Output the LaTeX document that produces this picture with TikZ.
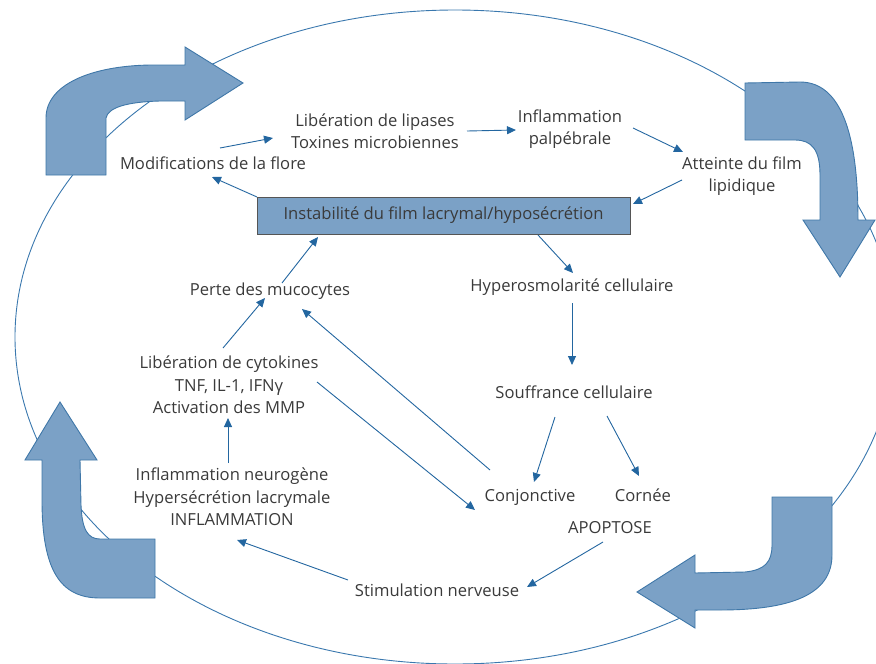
\documentclass[tikz,border=0pt]{standalone}
\usepackage{fontspec}
\setmainfont{Open Sans}
\usetikzlibrary{arrows.meta,calc}
\definecolor{blockfill}{HTML}{7BA1C6}
\definecolor{blockdraw}{HTML}{3F77A8}
\definecolor{conncol}{HTML}{2366A0}
\definecolor{ellcol}{HTML}{3A78AE}
\definecolor{textgray}{HTML}{3A3A3A}
\definecolor{boxdraw}{HTML}{555555}
\begin{document}
\begin{tikzpicture}[x=1pt,y=-1pt,
  txt/.style={font=\fontsize{16.6}{22.5}\selectfont, text=textgray, align=center, inner sep=0pt},
  conn/.style={draw=conncol, line width=0.9pt, -{Triangle[length=9pt,width=8pt]}},
  bigarrow/.style={fill=blockfill, draw=blockdraw, line width=0.9pt, line join=miter},
  ell/.style={draw=ellcol, line width=0.9pt}]
\useasboundingbox (0,0) rectangle (876,664);
\begin{scope}
\clip (0,0) rectangle (876,664);
\draw[ell] (455,337) ellipse [x radius=440pt, y radius=327pt];
\end{scope}

% big curved arrows
\draw[bigarrow] (46,175) -- (106,175) -- (106,118) .. controls (108,108) and (125,102) .. (160,101) -- (185,101) -- (185,120) -- (243,83) -- (185,47) -- (185,65) -- (150,65) .. controls (90,66) and (46,85) .. (46,118) -- cycle;
\draw[bigarrow] (745,83) -- (800,82) .. controls (835,82) and (858,120) .. (858,220) -- (875,220) -- (840,277) -- (803,220) -- (820,220) -- (820,175) .. controls (820,150) and (812,140) .. (795,140) -- (745,140) -- cycle;
\draw[bigarrow] (772,497) -- (832,497) -- (832,555) .. controls (832,595) and (790,610) .. (720,610) -- (695,610) -- (695,628) -- (637,592) -- (695,555) -- (695,573) -- (745,572) .. controls (765,570) and (772,562) .. (772,545) -- cycle;
\draw[bigarrow] (42,460) -- (42,500) .. controls (42,570) and (60,598) .. (100,598) -- (155,598) -- (155,539) -- (100,539) .. controls (88,539) and (82,530) .. (81,505) -- (80,460) -- (97,460) -- (60,402) -- (25,460) -- cycle;

% nodes
\node[txt] (lip) at (375,131) {Libération de lipases\\Toxines microbiennes};
\node[txt] (inf) at (570,129) {Inflammation\\palpébrale};
\node[txt] (att) at (742,176) {Atteinte du film\\lipidique};
\node[txt] (flore) at (213,163) {Modifications de la flore};
\node[txt, fill=blockfill, draw=boxdraw, line width=0.9pt, minimum width=373pt, minimum height=37pt] (box) at (443.5,215.5) {Instabilité du film lacrymal/hyposécrétion};
\node[txt] (perte) at (270,291) {Perte des mucocytes};
\node[txt] (hyper) at (572,287) {Hyperosmolarité cellulaire};
\node[txt] (souf) at (574,392) {Souffrance cellulaire};
\node[txt] (cyto) at (229,385) {Libération de cytokines\\TNF, IL-1, IFN\char"03B3\\Activation des MMP};
\node[txt] (neuro) at (232,497) {Inflammation neurogène\\Hypersécrétion lacrymale\\INFLAMMATION};
\node[txt] (conj) at (530,497) {Conjonctive};
\node[txt] (cornee) at (643,495) {Cornée};
\node[txt] (apop) at (610,528) {APOPTOSE};
\node[txt] (stim) at (437,590) {Stimulation nerveuse};

% connectors
\draw[conn] ([shift={(7,-15)}]flore.center) -- ([shift={(-102,7)}]lip.center);
\draw[conn] ([shift={(92,0)}]lip.center) -- ([shift={(-54,1)}]inf.center);
\draw[conn] ([shift={(63,-1)}]inf.center) -- ([shift={(-59,-24)}]att.center);
\draw[conn] ([shift={(-60,4)}]att.center) -- ([shift={(189.5,-11.5)}]box.center);
\draw[conn] ([shift={(-186.5,-18.5)}]box.center) -- ([shift={(-1,14)}]flore.center);
\draw[conn] ([shift={(94.5,19.5)}]box.center) -- ([shift={(1,-14)}]hyper.center);
\draw[conn] ([shift={(0,16)}]hyper.center) -- ([shift={(-2,-27)}]souf.center);
\draw[conn] ([shift={(-19,25)}]souf.center) -- ([shift={(4,-15)}]conj.center);
\draw[conn] ([shift={(33,24)}]souf.center) -- ([shift={(-4,-19)}]cornee.center);
\draw[conn] ([shift={(-7,14)}]apop.center) -- ([shift={(90,-3)}]stim.center);
\draw[conn] ([shift={(-89,-10)}]stim.center) -- ([shift={(5,43)}]neuro.center);
\draw[conn] ([shift={(-4,-34)}]neuro.center) -- ([shift={(-1,33)}]cyto.center);
\draw[conn] ([shift={(-6,-37)}]cyto.center) -- ([shift={(-5,7)}]perte.center);
\draw[conn] ([shift={(12,-8)}]perte.center) -- ([shift={(-125.5,21.5)}]box.center);
\draw[conn] ([shift={(88,-3)}]cyto.center) -- ([shift={(-55,13)}]conj.center);
\draw[conn] ([shift={(-40,-27)}]conj.center) -- ([shift={(32,18)}]perte.center);
\end{tikzpicture}
\end{document}
